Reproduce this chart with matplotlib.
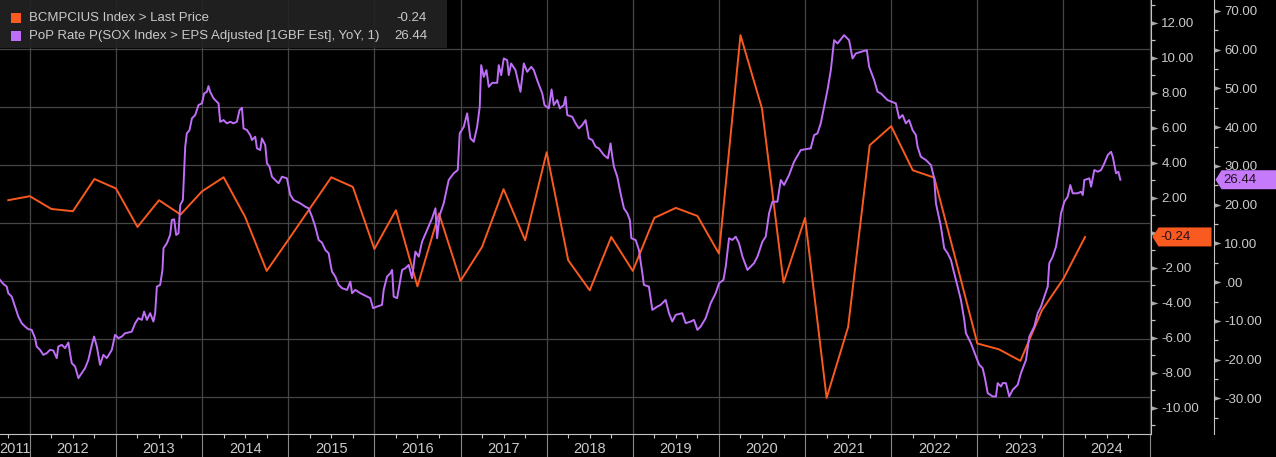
import numpy as np
import matplotlib
matplotlib.use("Agg")
import matplotlib.pyplot as plt
from matplotlib.path import Path
from matplotlib.patches import Polygon, Rectangle
from matplotlib.transforms import IdentityTransform, blended_transform_factory

plt.rcParams['font.family'] = ['Liberation Sans', 'DejaVu Sans']

# BCMPCIUS Index > Last Price (quarterly, from Q4 2011)
capex_values = [1.86, 2.09, 1.36, 1.23, 3.07, 2.53, 0.33, 1.86, 1.04, 2.37,
                3.17, 0.90, -2.18, -0.41, 1.38, 3.17, 2.62, -0.93, 1.29, -3.06,
                1.10, -2.75, -0.81, 2.49, -0.43, 4.60, -1.57, -3.29, -0.24, -2.18,
                0.85, 1.42, 0.96, -1.19, 11.29, 7.10, -2.85, 0.85, -9.44, -5.38,
                5.00, 6.09, 3.57, 3.15, -1.57, -6.33, -6.66, -7.32, -4.43, -2.62,
                -0.24]
capex_dates = 2011.75 + 0.25 * np.arange(len(capex_values))

# PoP Rate P(SOX Index > EPS Adjusted [1GBF Est], YoY, 1), dates as decimal years
sox_dates = [
    2011.654, 2011.692, 2011.732, 2011.750, 2011.790, 2011.828, 2011.867, 2011.906, 2011.945, 2011.983,
    2012.022, 2012.061, 2012.080, 2012.119, 2012.157, 2012.197, 2012.235, 2012.273, 2012.313, 2012.331,
    2012.371, 2012.409, 2012.448, 2012.467, 2012.487, 2012.526, 2012.564, 2012.603, 2012.642, 2012.680,
    2012.720, 2012.746, 2012.778, 2012.816, 2012.854, 2012.894, 2012.952, 2012.990, 2013.029, 2013.068,
    2013.107, 2013.145, 2013.184, 2013.223, 2013.261, 2013.301, 2013.327, 2013.359, 2013.397, 2013.435,
    2013.455, 2013.475, 2013.513, 2013.540, 2013.552, 2013.591, 2013.629, 2013.649, 2013.676, 2013.699,
    2013.726, 2013.746, 2013.777, 2013.792, 2013.804, 2013.823, 2013.854, 2013.882, 2013.920, 2013.958,
    2013.998, 2014.024, 2014.056, 2014.074, 2014.094, 2014.133, 2014.191, 2014.210, 2014.249, 2014.288,
    2014.327, 2014.365, 2014.404, 2014.435, 2014.463, 2014.481, 2014.521, 2014.559, 2014.579, 2014.617,
    2014.637, 2014.675, 2014.695, 2014.733, 2014.753, 2014.783, 2014.811, 2014.850, 2014.888, 2014.927,
    2014.985, 2015.024, 2015.062, 2015.140, 2015.198, 2015.236, 2015.276, 2015.314, 2015.353, 2015.392,
    2015.431, 2015.469, 2015.489, 2015.508, 2015.547, 2015.585, 2015.625, 2015.683, 2015.721, 2015.741,
    2015.779, 2015.837, 2015.876, 2015.915, 2015.953, 2015.985, 2016.031, 2016.089, 2016.108, 2016.147,
    2016.186, 2016.206, 2016.224, 2016.264, 2016.302, 2016.322, 2016.360, 2016.398, 2016.438, 2016.476,
    2016.515, 2016.554, 2016.612, 2016.670, 2016.709, 2016.728, 2016.759, 2016.805, 2016.863, 2016.921,
    2016.968, 2016.991, 2017.038, 2017.077, 2017.115, 2017.154, 2017.193, 2017.223, 2017.240, 2017.270,
    2017.301, 2017.328, 2017.368, 2017.426, 2017.444, 2017.472, 2017.502, 2017.542, 2017.560, 2017.588,
    2017.638, 2017.696, 2017.735, 2017.774, 2017.821, 2017.851, 2017.897, 2017.949, 2017.975, 2018.025,
    2018.057, 2018.083, 2018.123, 2018.153, 2018.200, 2018.219, 2018.239, 2018.297, 2018.336, 2018.374,
    2018.413, 2018.452, 2018.490, 2018.530, 2018.568, 2018.606, 2018.664, 2018.711, 2018.742, 2018.762,
    2018.781, 2018.820, 2018.858, 2018.897, 2018.936, 2018.966, 2018.983, 2019.033, 2019.071, 2019.111,
    2019.129, 2019.187, 2019.227, 2019.285, 2019.323, 2019.381, 2019.420, 2019.459, 2019.498, 2019.575,
    2019.614, 2019.672, 2019.710, 2019.750, 2019.788, 2019.846, 2019.904, 2019.962, 2020.001, 2020.052,
    2020.079, 2020.117, 2020.156, 2020.195, 2020.233, 2020.273, 2020.331, 2020.369, 2020.407, 2020.447,
    2020.505, 2020.543, 2020.582, 2020.621, 2020.679, 2020.718, 2020.756, 2020.814, 2020.872, 2020.950,
    2021.066, 2021.105, 2021.144, 2021.182, 2021.221, 2021.260, 2021.299, 2021.337, 2021.377, 2021.453,
    2021.511, 2021.551, 2021.589, 2021.647, 2021.717, 2021.744, 2021.802, 2021.841, 2021.880, 2021.957,
    2022.054, 2022.092, 2022.132, 2022.170, 2022.208, 2022.248, 2022.286, 2022.306, 2022.344, 2022.403,
    2022.461, 2022.499, 2022.519, 2022.577, 2022.615, 2022.655, 2022.693, 2022.731, 2022.771, 2022.809,
    2022.848, 2022.867, 2022.925, 2022.984, 2023.022, 2023.061, 2023.088, 2023.120, 2023.178, 2023.216,
    2023.236, 2023.274, 2023.294, 2023.332, 2023.370, 2023.410, 2023.468, 2023.506, 2023.565, 2023.603,
    2023.661, 2023.700, 2023.739, 2023.777, 2023.817, 2023.835, 2023.875, 2023.913, 2023.952, 2023.971,
    2024.010, 2024.049, 2024.079, 2024.107, 2024.165, 2024.204, 2024.224, 2024.242, 2024.300, 2024.320,
    2024.358, 2024.398, 2024.436, 2024.474, 2024.514, 2024.552, 2024.572, 2024.610, 2024.637, 2024.660,
]
sox_yoy = [
    0.59, -0.44, -1.13, -2.84, -3.71, -6.29, -8.87, -10.57, -11.44, -12.11,
    -12.29, -14.43, -16.60, -17.45, -18.74, -18.30, -17.45, -17.63, -19.59, -16.60,
    -16.16, -17.01, -15.57, -18.30, -20.88, -21.75, -24.74, -23.45, -22.16, -20.03,
    -16.16, -14.02, -16.60, -21.31, -18.74, -19.59, -17.45, -13.58, -14.43, -14.02,
    -13.14, -12.99, -12.73, -10.57, -9.28, -9.72, -7.58, -9.72, -7.99, -10.15,
    -7.99, -1.13, -0.70, 3.17, 8.76, 10.05, 12.19, 16.06, 16.24, 12.19,
    12.63, 19.92, 21.21, 28.94, 34.95, 38.40, 39.25, 42.27, 43.12, 45.70,
    46.13, 48.71, 49.12, 50.59, 49.12, 47.42, 46.13, 41.39, 41.83, 40.98,
    41.39, 40.98, 41.39, 44.41, 45.00, 39.69, 39.25, 37.96, 36.68, 37.53,
    34.54, 34.10, 37.11, 35.39, 30.67, 29.79, 27.22, 26.37, 25.52, 27.22,
    26.80, 22.50, 21.21, 20.36, 19.48, 19.07, 16.91, 14.33, 10.90, 10.21,
    8.32, 7.47, 4.90, 2.73, 1.44, -0.70, -1.55, -1.98, 0.15, -2.84,
    -1.98, -2.84, -3.27, -3.71, -4.12, -6.70, -6.29, -5.85, -1.98, 1.44,
    2.32, 3.17, -3.71, -4.12, 0.59, 3.17, 3.61, 4.46, 1.03, 7.89,
    6.60, 10.46, 13.48, 16.49, 19.07, 11.34, 17.35, 20.36, 26.37, 28.09,
    28.94, 38.40, 40.10, 43.56, 37.11, 36.24, 40.10, 45.26, 56.01, 52.99,
    54.72, 50.41, 51.44, 51.44, 56.01, 53.43, 57.73, 57.29, 53.43, 56.44,
    54.72, 49.12, 56.44, 54.28, 55.57, 54.72, 51.70, 48.71, 45.70, 44.85,
    49.74, 45.70, 46.99, 44.85, 45.70, 47.84, 43.12, 42.68, 40.98, 39.69,
    40.54, 41.83, 37.11, 36.68, 34.95, 34.54, 32.81, 31.96, 35.82, 32.37,
    29.79, 27.22, 22.94, 19.07, 17.78, 16.06, 11.34, 10.90, 8.32, 2.32,
    -0.70, -1.13, -7.14, -6.29, -5.85, -4.56, -7.99, -10.15, -8.43, -7.99,
    -10.57, -10.15, -9.72, -12.29, -11.44, -9.28, -5.41, -2.84, -0.26, 0.59,
    4.02, 11.34, 10.90, 11.75, 10.05, 6.60, 3.17, 4.02, 4.90, 6.60,
    10.46, 11.75, 17.78, 20.77, 20.77, 26.37, 25.08, 27.65, 31.08, 34.10,
    34.54, 37.96, 38.40, 40.98, 45.26, 49.56, 54.72, 62.45, 61.60, 63.74,
    62.45, 57.73, 59.02, 59.43, 59.87, 55.57, 52.14, 49.12, 48.71, 46.99,
    46.13, 42.27, 43.12, 40.98, 41.83, 39.25, 37.96, 34.95, 32.37, 31.52,
    30.23, 26.80, 20.36, 14.33, 8.76, 7.47, 5.75, 2.32, -1.13, -4.56,
    -9.72, -13.14, -15.72, -19.18, -21.31, -22.16, -24.74, -28.61, -29.48, -29.48,
    -26.03, -26.91, -26.03, -26.03, -29.48, -27.76, -26.47, -23.45, -20.03, -14.02,
    -11.44, -7.99, -6.29, -3.71, -1.13, 4.90, 6.60, 9.18, 14.33, 17.78,
    20.77, 22.06, 25.08, 22.94, 22.94, 23.35, 22.50, 26.37, 26.80, 24.64,
    28.94, 28.50, 28.94, 30.67, 32.81, 33.66, 32.37, 28.09, 28.50, 26.44,
]

years = list(range(2011, 2025))
left_ticks = list(range(-10, 13, 2))
right_ticks = list(range(-30, 71, 10))

BG = 'black'
GRID = '#454545'
AXIS = '#C4C4C4'
TXT = '#CACACA'
ORANGE = '#F95A1F'
PURPLE = '#BF6EF8'

W, H = 1276, 457
fig = plt.figure(figsize=(W / 100, H / 100), dpi=100, facecolor=BG)
ax = fig.add_axes([0, 23 / H, 1150.5 / W, 434 / H], facecolor=BG)
ax2 = ax.twinx()

ax.set_xlim(2011.654, 2025.01)
ax.set_ylim(-11.5, 13.3)
ax2.set_ylim(-39.16, 72.81)

# grid
ax.set_xticks(range(2012, 2026))
ax.set_xticks([q for q in np.arange(2011.75, 2025.0, 0.25) if q % 1 != 0], minor=True)
ax.grid(axis='x', which='major', color=GRID, lw=0.9)
for k in range(7):
    f = 1 - (49.3 + 58 * k) / 434
    ax.plot([0, 1], [f, f], transform=ax.transAxes, color=GRID, lw=0.9, zorder=0.5)

ax.plot(capex_dates, capex_values, color=ORANGE, lw=1.4, zorder=3)
ax2.plot(sox_dates, sox_yoy, color=PURPLE, lw=1.4, zorder=3)

# spines
for s in ['left', 'top']:
    ax.spines[s].set_visible(False)
ax.spines['right'].set_color(AXIS)
ax.spines['bottom'].set_color(AXIS)
for s in ['left', 'top', 'bottom']:
    ax2.spines[s].set_visible(False)
ax2.spines['right'].set_color(AXIS)
ax2.spines['right'].set_position(('outward', 63 * 0.72))

# x axis
ax.tick_params(axis='x', which='major', length=16.5, width=0.8, color='#8A8A8A',
               direction='out', labelbottom=False)
ax.tick_params(axis='x', which='minor', length=3, width=0.8, color=AXIS, direction='out')
xlo, xhi = ax.get_xlim()
trans = blended_transform_factory(ax.transData, ax.transAxes)
for yr in years:
    lo, hi = max(yr, xlo), min(yr + 1, xhi)
    ax.text((lo + hi) / 2, -0.035, str(yr), transform=trans, ha='center', va='center',
            color=TXT, fontsize=10.5, family=['Liberation Sans Narrow', 'Liberation Sans'])


def fmt(v):
    return '.00' if v == 0 else f'{v:.2f}'


tri = Path([(0, -0.33), (1, 0), (0, 0.33), (0, -0.33)],
           [Path.MOVETO, Path.LINETO, Path.LINETO, Path.CLOSEPOLY])

# the zero label of the left axis sits under the last-price tag
left_labels = ['' if v == 0 else fmt(v) for v in left_ticks]
right_labels = [fmt(v) for v in right_ticks]

for a, ticks, labels, minor in [(ax, left_ticks, left_labels, range(-11, 14, 2)),
                                (ax2, right_ticks, right_labels, range(-35, 75, 10))]:
    a.yaxis.tick_right()
    a.set_yticks(ticks)
    a.set_yticklabels(labels)
    a.set_yticks(list(minor), minor=True)
    a.tick_params(axis='y', which='major', length=5, width=0, pad=2.8,
                  labelcolor=TXT, labelsize=9.5)
    a.tick_params(axis='y', which='minor', length=3.2, width=0.9, color=AXIS)
    for t in a.yaxis.get_major_ticks():
        t.tick2line.set_marker(tri)
        t.tick2line.set_markersize(10)
        t.tick2line.set_markerfacecolor('#A8A8A8')
        t.tick2line.set_markeredgewidth(0)

# last value tags
ident = IdentityTransform()
x_left = ax.transAxes.transform((1, 0))[0]
y_left = ax.transData.transform((0, capex_values[-1]))[1]
x_right = x_left + 63
y_right = ax2.transData.transform((0, sox_yoy[-1]))[1]
for x0, y0, x1, col, txt in [(x_left, y_left, x_left + 61, ORANGE, capex_values[-1]),
                             (x_right, y_right, W, '#C57AFB', sox_yoy[-1])]:
    verts = [(x0 + 2, y0), (x0 + 8, y0 + 9.5), (x1, y0 + 9.5), (x1, y0 - 9.5), (x0 + 8, y0 - 9.5)]
    fig.add_artist(Polygon(verts, closed=True, transform=ident, facecolor=col,
                           edgecolor='none', zorder=5))
    fig.text(x0 + 10, y0, f'{txt:.2f}', transform=ident, ha='left', va='center',
             color='#241020', fontsize=9.5, zorder=6)

# legend box
fig.add_artist(Rectangle((0, H - 47.5), 447, 47.5, transform=ident,
                         facecolor='#232323', edgecolor='none', alpha=0.9, zorder=5))
legend_rows = [(ORANGE, 'BCMPCIUS Index > Last Price', capex_values[-1], 17.7),
               (PURPLE, 'PoP Rate P(SOX Index > EPS Adjusted [1GBF Est], YoY, 1)', sox_yoy[-1], 36.0)]
for col, label, last, yc in legend_rows:
    fig.add_artist(Rectangle((11, H - yc - 5), 10, 10, transform=ident,
                             facecolor=col, edgecolor='none', zorder=6))
    fig.text(29, H - yc, label, transform=ident, ha='left', va='center',
             color=TXT, fontsize=9.5, zorder=6)
    fig.text(427, H - yc, f'{last:.2f}', transform=ident, ha='right', va='center',
             color=TXT, fontsize=9.5, zorder=6)

fig.savefig('out.png', dpi=100, facecolor=BG)
